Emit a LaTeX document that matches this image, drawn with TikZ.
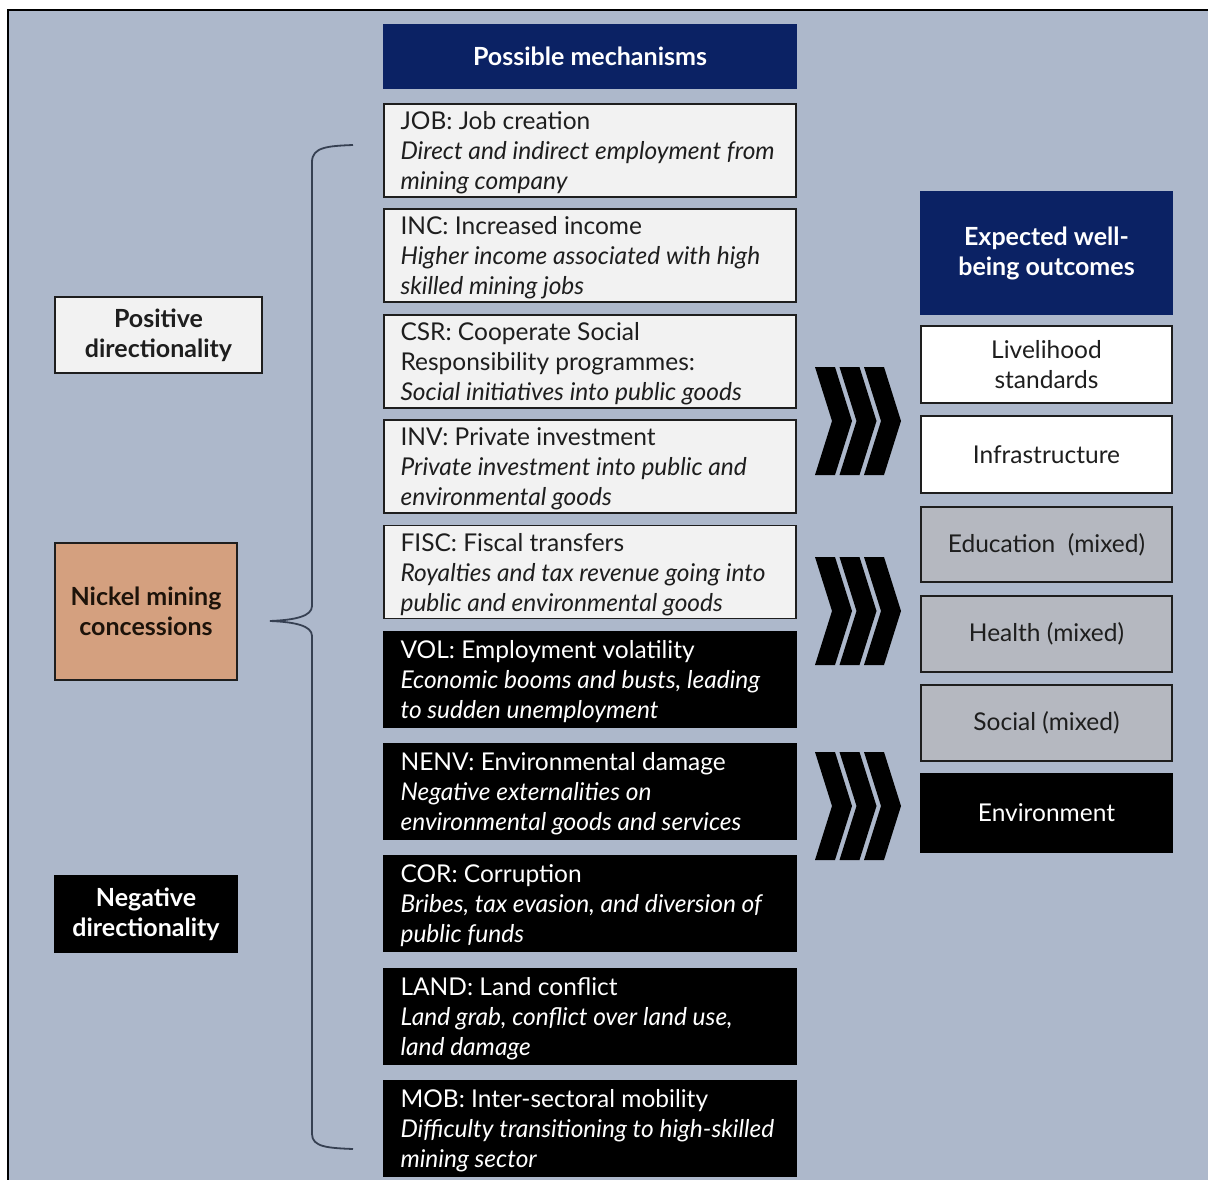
\documentclass[tikz,border=0pt]{standalone}
\usepackage{fontspec}
\setmainfont{Lato}
\definecolor{bgc}{HTML}{ADB8CB}
\definecolor{navy}{HTML}{0B2264}
\definecolor{lightbox}{HTML}{F2F2F2}
\definecolor{grayb}{HTML}{B5B8C0}
\definecolor{nickel}{HTML}{D4A07F}
\definecolor{txt}{HTML}{1E1E1E}
\definecolor{bracec}{HTML}{364052}
\tikzset{
  box/.style={draw=txt, line width=1.3pt, inner sep=0pt},
  lightmech/.style={box, fill=lightbox, minimum width=412pt, minimum height=93pt},
  darkmech/.style={box, draw=black, fill=black, minimum width=412pt, minimum height=95pt},
  mtext/.style={anchor=west, align=left, inner sep=0pt, font=\fontsize{24.5}{30}\selectfont},
  header/.style={box, draw=navy, fill=navy, text=white, align=center, font=\bfseries\fontsize{25}{30}\selectfont},
  outc/.style={box, minimum width=251pt, align=center, font=\fontsize{24.5}{30}\selectfont},
  side/.style={box, align=center, font=\bfseries\fontsize{25}{30}\selectfont},
  chev/.style={fill=black},
  bracel/.style={draw=bracec, line width=1.8pt}
}
\newcommand\mechitem[5]{%
  \node[#1] (#2) at (590,#3) {};
  \node[mtext, #4] (#2t) at ([xshift=17pt, yshift=-2.5pt]#2.west) {#5};
}
\begin{document}
\begin{tikzpicture}[x=1pt, y=-1pt]
\useasboundingbox (0,0) rectangle (1208,1180);
\fill[white] (0,0) rectangle (1208,1180);
\fill[bgc] (8,10) rectangle (1208,1180);
\draw[line width=2.2pt] (8,1180) -- (8,10) -- (1208,10);

% header
\node[header, minimum width=412pt, minimum height=63pt] (mechhead) at (590,56.5) {Possible mechanisms};

% mechanisms
\mechitem{lightmech}{job}{150.5}{text=txt}{JOB: Job creation\\ \textit{Direct and indirect employment from}\\ \textit{mining company}}
\mechitem{lightmech}{inc}{255.5}{text=txt}{INC: Increased income\\ \textit{Higher income associated with high}\\ \textit{skilled mining jobs}}
\mechitem{lightmech}{csr}{361.5}{text=txt}{CSR: Cooperate Social\\ Responsibility programmes:\\ \textit{Social initiatives into public goods}}
\mechitem{lightmech}{inv}{466.5}{text=txt}{INV: Private investment\\ \textit{Private investment into public and}\\ \textit{environmental goods}}
\mechitem{lightmech}{fisc}{572}{text=txt}{FISC: Fiscal transfers\\ \textit{Royalties and tax revenue going into}\\ \textit{public and environmental goods}}
\mechitem{darkmech}{vol}{679.5}{text=white}{VOL: Employment volatility\\ \textit{Economic booms and busts, leading}\\ \textit{to sudden unemployment}}
\mechitem{darkmech}{nenv}{791.5}{text=white}{NENV: Environmental damage\\ \textit{Negative externalities on}\\ \textit{environmental goods and services}}
\mechitem{darkmech}{cor}{903.5}{text=white}{COR: Corruption\\ \textit{Bribes, tax evasion, and diversion of}\\ \textit{public funds}}
\mechitem{darkmech}{land}{1016.5}{text=white}{LAND: Land conflict\\ \textit{Land grab, conflict over land use,}\\ \textit{land damage}}
\mechitem{darkmech}{mob}{1128.5}{text=white}{MOB: Inter-sectoral mobility\\ \textit{Difficulty transitioning to high-skilled}\\ \textit{mining sector}}

% outcomes
\node[header, minimum width=251pt, minimum height=122pt] (outhead) at (1046.5,253) {Expected well-\\being outcomes};
\node[outc, fill=white, text=txt, minimum height=77pt] (liv) at (1046.5,364.5) {Livelihood\\standards};
\node[outc, fill=white, text=txt, minimum height=77pt] (infra) at (1046.5,454.5) {Infrastructure};
\node[outc, fill=grayb, text=txt, minimum height=75pt] (edu) at (1046.5,544.5) {Education\ \ (mixed)};
\node[outc, fill=grayb, text=txt, minimum height=76pt] (hea) at (1046.5,634) {Health (mixed)};
\node[outc, fill=grayb, text=txt, minimum height=76pt] (soc) at (1046.5,723) {Social (mixed)};
\node[outc, draw=black, fill=black, text=white, minimum height=78pt] (env) at (1046.5,813) {Environment};

% left side
\node[side, fill=lightbox, text=txt, minimum width=207pt, minimum height=76pt] (pos) at (158.5,335) {Positive\\directionality};
\node[side, fill=nickel, text={black!85!brown}, minimum width=182pt, minimum height=137pt] (nic) at (146,611.5) {Nickel mining\\concessions};
\node[side, draw=black, fill=black, text=white, minimum width=182pt, minimum height=76pt] (neg) at (146,914) {Negative\\directionality};

% brace
\coordinate (btop) at (353,145);
\coordinate (bmid) at (270,621);
\coordinate (bbot) at (353,1149);
\draw[bracel] (btop) .. controls (328,146) and (312,147) .. (312,162)
  -- (312,606) .. controls (312,616) and (296,620) .. (bmid)
  .. controls (296,622) and (312,626) .. (312,636)
  -- (312,1134) .. controls (312,1147) and (328,1148) .. (bbot);

% chevrons
\foreach \m in {421,611,806}{
  \foreach \x in {815,839.5,864}{
    \fill[chev] (\x,\m-54) -- (\x+20,\m-54) -- (\x+37,\m) -- (\x+20,\m+54)
      -- (\x,\m+54) -- (\x+17,\m) -- cycle;
  }
}
\end{tikzpicture}
\end{document}
